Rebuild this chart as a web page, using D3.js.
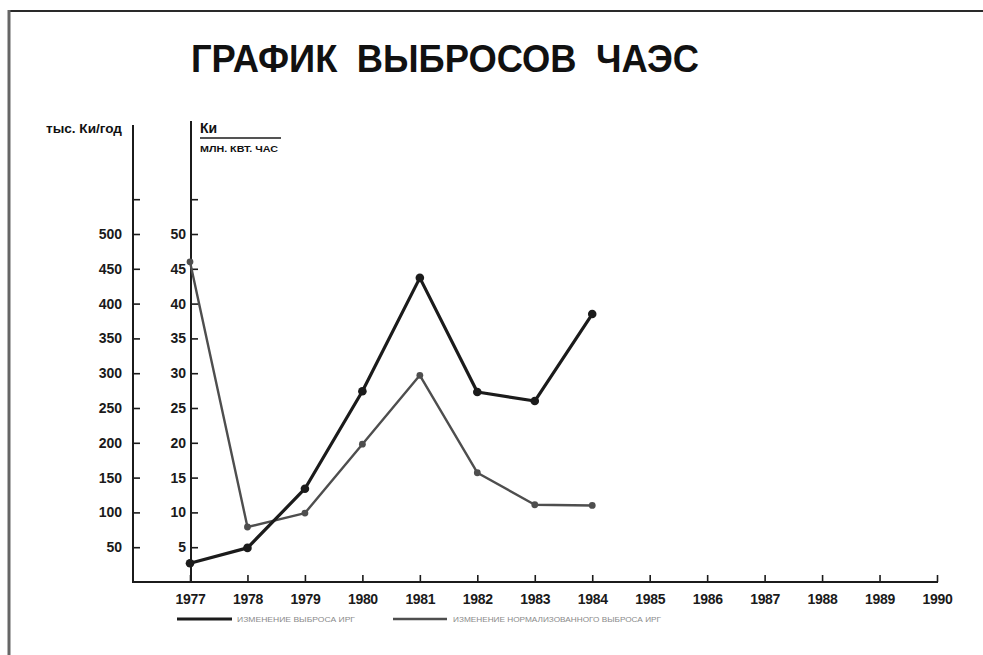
<!DOCTYPE html>
<html>
<head>
<meta charset="utf-8">
<script src="https://cdn.jsdelivr.net/npm/d3@7/dist/d3.min.js"></script>
<style>
  html, body { margin: 0; padding: 0; background: #fff; }
  svg { display: block; }
</style>
</head>
<body>
<svg id="chart" width="983" height="655"></svg>
<script>
// ---- data ----
const years = [1977, 1978, 1979, 1980, 1981, 1982, 1983, 1984];
const emission = [27, 49, 134, 274, 437, 273, 260, 385];          // тыс. Ки/год (left axis)
const normalized = [46, 7.9, 9.9, 19.8, 29.7, 15.7, 11.1, 11.0];  // Ки / млн. кВт. час (right axis)
const xTickYears = [1977, 1978, 1979, 1980, 1981, 1982, 1983, 1984, 1985, 1986, 1987, 1988, 1989, 1990];
const leftTicks = [50, 100, 150, 200, 250, 300, 350, 400, 450, 500, 550];
const rightTicks = [5, 10, 15, 20, 25, 30, 35, 40, 45, 50, 55];
const titleText = "ГРАФИК ВЫБРОСОВ ЧАЭС";
const leftAxisLabel = "тыс. Ки/год";
const rightAxisLabelTop = "Ки";
const rightAxisLabelBottom = "МЛН. КВТ. ЧАС";
const legendLabels = ["ИЗМЕНЕНИЕ ВЫБРОСА ИРГ", "ИЗМЕНЕНИЕ НОРМАЛИЗОВАННОГО ВЫБРОСА ИРГ"];

const svg = d3.select("#chart");
const ink = "#1b1b1b";
const gray = "#4e4e4e";
const font = "'Liberation Sans', Arial, sans-serif";

// frame of the photographed sheet
svg.append("line").attr("x1", 8).attr("x2", 983).attr("y1", 11).attr("y2", 11)
  .attr("stroke", "#2a2a2a").attr("stroke-width", 2);
svg.append("line").attr("x1", 9).attr("x2", 9).attr("y1", 10).attr("y2", 655)
  .attr("stroke", "#666").attr("stroke-width", 3);

// title
svg.append("text").attr("x", 191).attr("y", 72)
  .attr("font-family", font).attr("font-weight", "bold").attr("font-size", 39)
  .attr("fill", "#111").attr("word-spacing", "10px")
  .attr("textLength", 508).attr("lengthAdjust", "spacingAndGlyphs")
  .text(titleText);

// scales
const x = d3.scaleLinear().domain([1977, 1990]).range([190, 937]);
const yL = d3.scaleLinear().domain([0, 500]).range([582, 234]);
const yR = d3.scaleLinear().domain([0, 50]).range([582, 234]);

const leftX = 133, rightX = 191;

// left axis
const gL = svg.append("g").attr("transform", `translate(${leftX},0)`)
  .call(d3.axisLeft(yL).tickValues(leftTicks).tickSize(-7).tickPadding(11)
    .tickFormat(d => d === 550 ? "" : d));
gL.select(".domain").remove();
svg.append("line").attr("x1", leftX).attr("x2", leftX).attr("y1", 125).attr("y2", 583)
  .attr("stroke", ink).attr("stroke-width", 2);

// right axis
const gR = svg.append("g").attr("transform", `translate(${rightX},0)`)
  .call(d3.axisLeft(yR).tickValues(rightTicks).tickSize(-7).tickPadding(5)
    .tickFormat(d => d === 55 ? "" : d));
gR.select(".domain").remove();
svg.append("line").attr("x1", rightX).attr("x2", rightX).attr("y1", 121).attr("y2", 583)
  .attr("stroke", ink).attr("stroke-width", 2);

// x axis
const gX = svg.append("g").attr("transform", "translate(0,582)")
  .call(d3.axisBottom(x).tickValues(xTickYears).tickSize(-7).tickPadding(12)
    .tickFormat(d3.format("d")));
gX.select(".domain").remove();
svg.append("line").attr("x1", leftX - 1).attr("x2", 938).attr("y1", 582).attr("y2", 582)
  .attr("stroke", ink).attr("stroke-width", 2);

[gL, gR, gX].forEach(g => {
  g.selectAll(".tick line").attr("stroke", ink).attr("stroke-width", 1.6);
  g.selectAll(".tick text").attr("font-family", font).attr("font-weight", "bold")
    .attr("font-size", 14).attr("fill", "#1a1a1a");
});
gX.selectAll(".tick text").attr("font-size", 14).attr("letter-spacing", "-0.3px");

// axis labels
svg.append("text").attr("x", 122).attr("y", 133).attr("text-anchor", "end")
  .attr("font-family", font).attr("font-weight", "bold").attr("font-size", 12)
  .attr("fill", "#111").attr("textLength", 76).attr("lengthAdjust", "spacingAndGlyphs")
  .text(leftAxisLabel);
svg.append("text").attr("x", 200).attr("y", 133)
  .attr("font-family", font).attr("font-weight", "bold").attr("font-size", 14)
  .attr("fill", "#111").text(rightAxisLabelTop);
svg.append("line").attr("x1", 200).attr("x2", 281).attr("y1", 138).attr("y2", 138)
  .attr("stroke", ink).attr("stroke-width", 1.3);
svg.append("text").attr("x", 200).attr("y", 152)
  .attr("font-family", font).attr("font-weight", "bold").attr("font-size", 9)
  .attr("fill", "#111").attr("textLength", 78).attr("lengthAdjust", "spacingAndGlyphs")
  .text(rightAxisLabelBottom);

// series
const line = (yScale, vals) => d3.line()
  .x((d, i) => x(years[i]))
  .y((d) => yScale(d))(vals);

svg.append("path").attr("d", line(yR, normalized)).attr("fill", "none")
  .attr("stroke", gray).attr("stroke-width", 2.4).attr("stroke-linejoin", "round");
svg.selectAll(".pn").data(normalized).enter().append("circle")
  .attr("cx", (d, i) => x(years[i])).attr("cy", d => yR(d)).attr("r", 3.4)
  .attr("fill", gray);

svg.append("path").attr("d", line(yL, emission)).attr("fill", "none")
  .attr("stroke", ink).attr("stroke-width", 3.2).attr("stroke-linejoin", "round");
svg.selectAll(".pe").data(emission).enter().append("circle")
  .attr("cx", (d, i) => x(years[i])).attr("cy", d => yL(d)).attr("r", 4.3)
  .attr("fill", ink);

// legend
svg.append("line").attr("x1", 177).attr("x2", 232).attr("y1", 619).attr("y2", 619)
  .attr("stroke", ink).attr("stroke-width", 3);
svg.append("text").attr("x", 237).attr("y", 622)
  .attr("font-family", font).attr("font-size", 8).attr("fill", "#8a8a8a")
  .attr("textLength", 118).attr("lengthAdjust", "spacingAndGlyphs")
  .text(legendLabels[0]);
svg.append("line").attr("x1", 393).attr("x2", 447).attr("y1", 619).attr("y2", 619)
  .attr("stroke", gray).attr("stroke-width", 2.4);
svg.append("text").attr("x", 453).attr("y", 622)
  .attr("font-family", font).attr("font-size", 8).attr("fill", "#8a8a8a")
  .attr("textLength", 208).attr("lengthAdjust", "spacingAndGlyphs")
  .text(legendLabels[1]);
</script>
</body>
</html>
